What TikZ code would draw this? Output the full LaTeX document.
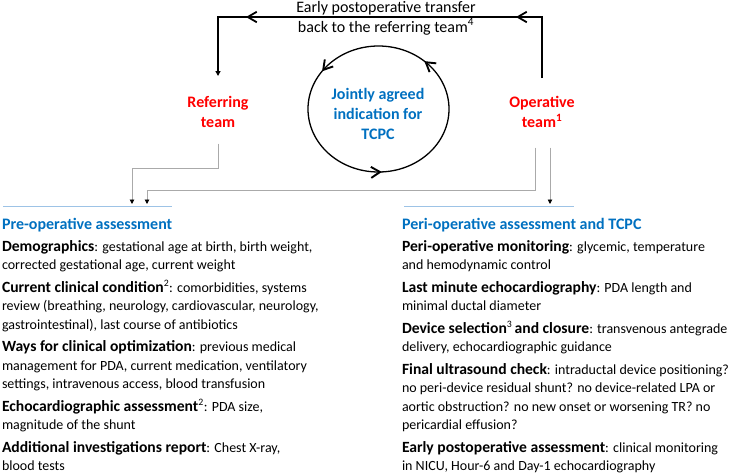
\documentclass[tikz,border=0pt]{standalone}
\usepackage{fontspec}
\setmainfont{Carlito}
\usetikzlibrary{arrows.meta,decorations.markings,calc}
\definecolor{tred}{RGB}{255,0,0}
\definecolor{tblue}{RGB}{0,112,192}
\definecolor{lblue}{RGB}{157,195,230}
\definecolor{cgray}{RGB}{170,170,170}
\newcommand\ttl[1]{{\fontsize{15.6}{18.5}\selectfont\bfseries #1}}
\newcommand\lnsl[1]{\begin{tabular}[t]{@{}l@{}}#1\end{tabular}}
\newcommand\lnsc[1]{\begin{tabular}[t]{@{}c@{}}#1\end{tabular}}
\begin{document}
\begin{tikzpicture}[x=1pt,y=-1pt,
  txt/.style={inner sep=0pt, outer sep=0pt, anchor=base west, font=\fontsize{14}{18.5}\selectfont},
  team/.style={inner sep=0pt, outer sep=0pt, anchor=base, text=tred, font=\fontsize{16}{20}\selectfont\bfseries},
  joint/.style={inner sep=0pt, outer sep=0pt, anchor=base, text=tblue, font=\fontsize{16}{20}\selectfont\bfseries},
  toptxt/.style={inner sep=0pt, outer sep=0pt, anchor=base, font=\fontsize{16}{20}\selectfont},
  hdr/.style={inner sep=0pt, outer sep=0pt, anchor=base west, text=tblue, font=\fontsize{16}{20}\selectfont\bfseries},
  blk/.style={line width=1.3pt, black},
  gc/.style={line width=0.9pt, cgray, -{Triangle[length=4.5pt,width=4.5pt,color=black]}},
  hline/.style={line width=1pt, lblue}]
\useasboundingbox (0,0) rectangle (731,475);

% top text
\node[toptxt] (tt) at (386,12) {\lnsc{Early postoperative transfer\\back to the referring team\textsuperscript{4}}};

% teams
\node[team] (rt) at (218,107.5) {\lnsc{Referring\\team}};
\node[team] (ot) at (542,107.5) {\lnsc{Operative\\team\textsuperscript{1}}};

% joint indication
\node[joint] (jt) at (378,99.5) {\lnsc{Jointly agreed\\indication for\\TCPC}};
\coordinate (cc) at (378.5,109);
\draw[line width=1.3pt, postaction={decorate}, decoration={markings,
   mark=at position 0.242 with {\arrowreversed{Straight Barb[length=9pt,width=11pt,line width=1.9pt]}},
   mark=at position 0.598 with {\arrowreversed{Straight Barb[length=9pt,width=11pt,line width=1.9pt]}},
   mark=at position 0.867 with {\arrowreversed{Straight Barb[length=9pt,width=11pt,line width=1.9pt]}}}]
   (cc) ellipse [x radius=70.5, y radius=63];

% top loop
\coordinate (cR) at (542,17);
\coordinate (cL) at (218,17);
\draw[blk, -{Triangle[length=5pt,width=5pt]}, postaction={decorate}, decoration={markings,
   mark=at position 87pt with {\arrow{Straight Barb[length=9pt,width=10.5pt,line width=1.8pt]}},
   mark=at position 357pt with {\arrow{Straight Barb[length=9pt,width=10.5pt,line width=1.8pt]}}}]
   ([yshift=15.5pt]ot.north) -- (cR) -- (cL) -- ([yshift=17.5pt]rt.north);

% headers
\node[hdr] (hL) at (2,229) {Pre-operative assessment};
\node[hdr] (hR) at (402,229) {Peri-operative assessment and TCPC};
\draw[hline] (3,206) -- (172,206);
\draw[hline] (404,206) -- (574,206);

% connector ends
\coordinate (aL1) at (132,204);
\coordinate (aL2) at (147,204);
\coordinate (aR) at (550,204);
\draw[gc] ([yshift=-10pt]rt.south) |- ($(aL1)+(0,-36)$) -- (aL1);
\draw[gc] ([xshift=-7pt,yshift=-14pt]ot.south) |- ($(aL2)+(0,-14)$) -- (aL2);
\draw[gc] ([xshift=8pt,yshift=-14pt]ot.south) -- (aR);

% left column
\node[txt] (L1) at (2,251) {\lnsl{\ttl{Demographics}: gestational age at birth, birth weight,\\corrected gestational age, current weight}};
\node[txt] (L2) at (2,292) {\lnsl{\ttl{Current clinical condition}\textsuperscript{2}: comorbidities, systems\\review (breathing, neurology, cardiovascular, neurology,\\gastrointestinal), last course of antibiotics}};
\node[txt] (L3) at (2,351.5) {\lnsl{\ttl{Ways for clinical optimization}: previous medical\\management for PDA, current medication, ventilatory\\settings, intravenous access, blood transfusion}};
\node[txt] (L4) at (2,411) {\lnsl{\ttl{Echocardiographic assessment}\textsuperscript{2}: PDA size,\\magnitude of the shunt}};
\node[txt] (L5) at (2,452) {\lnsl{\ttl{Additional investigations report}: Chest X-ray,\\blood tests}};

% right column
\node[txt] (R1) at (402,251) {\lnsl{\ttl{Peri-operative monitoring}: glycemic, temperature\\and hemodynamic control}};
\node[txt] (R2) at (402,292) {\lnsl{\ttl{Last minute echocardiography}: PDA length and\\minimal ductal diameter}};
\node[txt] (R3) at (402,333) {\lnsl{\ttl{Device selection}\textsuperscript{3}\,\ttl{and closure}: transvenous antegrade\\delivery, echocardiographic guidance}};
\node[txt] (R4) at (402,374) {\lnsl{\ttl{Final ultrasound check}: intraductal device positioning?\\no peri-device residual shunt? no device-related LPA or\\aortic obstruction? no new onset or worsening TR? no\\pericardial effusion?}};
\node[txt] (R5) at (402,452) {\lnsl{\ttl{Early postoperative assessment}: clinical monitoring\\in NICU, Hour-6 and Day-1 echocardiography}};
\end{tikzpicture}
\end{document}
